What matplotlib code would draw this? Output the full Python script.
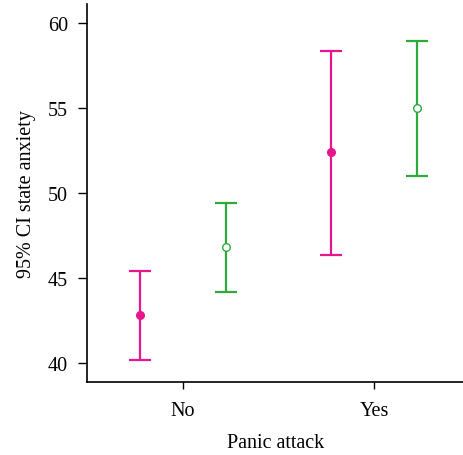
import matplotlib
matplotlib.use("Agg")
import matplotlib.pyplot as plt
import numpy as np

plt.rcParams['font.family'] = ['Liberation Serif', 'DejaVu Serif']

categories = ["No", "Yes"]
# two groups per panic-attack category: mean and 95% CI bounds
mean_a = [42.8, 52.4]
lower_a = [40.2, 46.35]
upper_a = [45.4, 58.35]
mean_b = [46.8, 55.0]
lower_b = [44.2, 51.0]
upper_b = [49.4, 58.95]

col_a = "#e8158c"
col_b = "#2eaa3c"

fig = plt.figure(figsize=(4.64, 4.56), dpi=100)
ax = fig.add_axes([0.1875, 0.160, 0.8125, 0.829])

x = np.arange(1, len(categories) + 1)
off = 0.225


def draw_group(xpos, mean, lo, hi, color, filled):
    mean = np.array(mean)
    err = np.vstack([mean - np.array(lo), np.array(hi) - mean])
    ax.errorbar(xpos, mean, yerr=err, fmt='none', ecolor=color,
                elinewidth=1.6, capsize=8, capthick=1.6, zorder=2)
    if filled:
        ax.plot(xpos, mean, 'o', color=color, markersize=5.5, zorder=3)
    else:
        ax.plot(xpos, mean, 'o', markerfacecolor='white', markeredgecolor=color,
                markeredgewidth=1.0, markersize=5.5, zorder=3)


draw_group(x - off, mean_a, lower_a, upper_a, col_a, True)
draw_group(x + off, mean_b, lower_b, upper_b, col_b, False)

ax.set_xlim(0.497, 2.47)
ax.set_ylim(38.88, 61.12)
ax.set_xticks(x)
ax.set_xticklabels(categories)
ax.set_yticks([40, 45, 50, 55, 60])

for s in ['top', 'right']:
    ax.spines[s].set_visible(False)
for s in ['left', 'bottom']:
    ax.spines[s].set_linewidth(1.2)

ax.tick_params(axis='y', direction='out', length=6.5, width=1.0,
               labelsize=14.5, pad=7)
ax.tick_params(axis='x', direction='out', length=5, width=1.0,
               labelsize=14.5, pad=9)
ax.set_ylabel("95% CI state anxiety", fontsize=14.5, labelpad=9)
ax.set_xlabel("Panic attack", fontsize=14.5, labelpad=9)

fig.savefig("out.png", dpi=100)
